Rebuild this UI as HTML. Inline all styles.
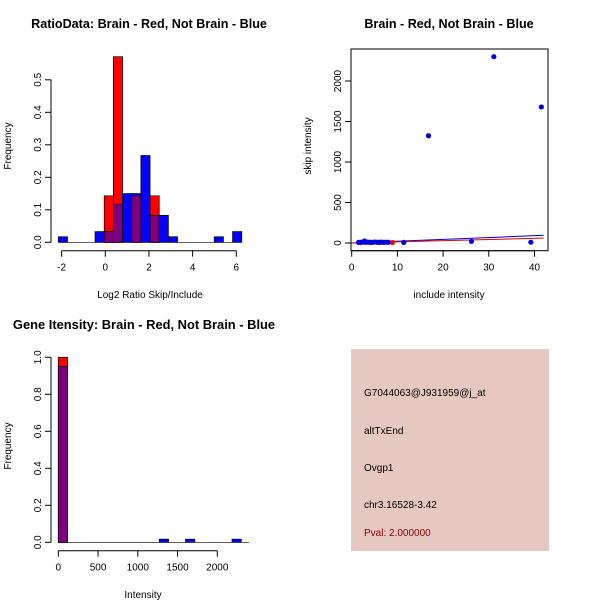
<!DOCTYPE html>
<html><head><meta charset="utf-8"><style>
body{margin:0;background:#fff}
svg text{font-family:"Liberation Sans",sans-serif}
</style></head><body>
<svg id="s" width="600" height="600" xmlns="http://www.w3.org/2000/svg">
<rect width="600" height="600" fill="#fff"/>
<text x="149" y="28" font-size="12.6" font-weight="bold" text-anchor="middle">RatioData: Brain - Red, Not Brain - Blue</text>
<text x="449" y="28" font-size="12.6" font-weight="bold" text-anchor="middle">Brain - Red, Not Brain - Blue</text>
<text x="144" y="329" font-size="12.9" font-weight="bold" text-anchor="middle">Gene Itensity: Brain - Red, Not Brain - Blue</text>
<text x="150" y="298" font-size="10" text-anchor="middle">Log2 Ratio Skip/Include</text>
<text transform="translate(11,146) rotate(-90)" font-size="10" text-anchor="middle">Frequency</text>
<text x="449" y="298" font-size="10" text-anchor="middle">include intensity</text>
<text transform="translate(311,146) rotate(-90)" font-size="10" text-anchor="middle">skip intensity</text>
<text x="143" y="598" font-size="10" text-anchor="middle">Intensity</text>
<text transform="translate(11,446) rotate(-90)" font-size="10" text-anchor="middle">Frequency</text>
<rect x="351" y="349" width="198" height="202" fill="#E5C8C1"/>
<text x="364" y="396" font-size="10">G7044063@J931959@j_at</text>
<text x="364" y="434" font-size="10">altTxEnd</text>
<text x="364" y="471" font-size="10">Ovgp1</text>
<text x="364" y="508" font-size="10">chr3.16528-3.42</text>
<text x="364" y="536" font-size="10" fill="#8B0000">Pval: 2.000000</text>
<g id="g"></g>
</svg>
<script>
// Panel 1: histogram of log2 ratio
const ratioBinStart = -2.15, ratioBinWidth = 0.42;
const ratioRed = [0,0,0,0,0,0.143,0.571,0,0.143,0,0.143,0,0,0,0,0,0,0,0,0];
const ratioBlue = [0.017,0,0,0,0.033,0.033,0.117,0.15,0.15,0.267,0.083,0.083,0.017,0,0,0,0,0.017,0,0.033];
const ratioXTicks = [-2,0,2,4,6];
const ratioYTicks = [0,0.1,0.2,0.3,0.4,0.5];
// Panel 2: scatter
const incBlue = [1.5,2,2.5,3,3.5,4,4.5,5,5.5,6,6.5,7,7.5,8,2.8,11.4,16.8,26.2,31.1,39.2,41.5];
const skipBlue = [8,10,12,9,11,10,8,12,9,10,11,8,10,9,25,8,1324,20,2300,10,1680];
const incRed = [2,4,6,8.9];
const skipRed = [5,6,5,6];
const fitBlueEnd = 95, fitRedEnd = 60, fitXEnd = 42;
const scatXTicks = [0,10,20,30,40];
const scatYTicks = [0,500,1000,1500,2000];
// Panel 3: intensity histogram
const intBinStart = [0,1270,1600,2185];
const intBinWidth = 117;
const intRed = [1.0,0,0,0];
const intBlue = [0.95,0.017,0.017,0.017];
const intXTicks = [0,500,1000,1500,2000];
const intYTicks = [0,0.2,0.4,0.6,0.8,1.0];

const NS="http://www.w3.org/2000/svg", G=document.getElementById('g');
function mk(t,a,txt){const e=document.createElementNS(NS,t);for(const k in a)e.setAttribute(k,a[k]);if(txt!=null)e.textContent=txt;G.appendChild(e);return e;}

const x1=v=>105.3+v*21.83, y1=v=>242.3-v*325;
const x2=v=>351.7+v*4.57, y2=v=>243-v*0.081;
const x3=v=>58.3+v*0.0795, y3=v=>542.3-v*185;

function hist(bx,by,starts,w,red,blue,pfx){
  for(let i=0;i<red.length;i++){
    const s=starts(i), xa=bx(s), xb=bx(s+w);
    if(red[i]>0){let e=mk('rect',{x:xa,y:by(red[i]),width:xb-xa,height:by(0)-by(red[i]),fill:'#FF0000',stroke:'#000','stroke-width':0.7});
      }
    if(blue[i]>0){let e=mk('rect',{x:xa,y:by(blue[i]),width:xb-xa,height:by(0)-by(blue[i]),fill:'#0000FF',stroke:'#000','stroke-width':0.7});
      }
    const m=Math.min(red[i],blue[i]);
    if(m>0){let e=mk('rect',{x:xa,y:by(m),width:xb-xa,height:by(0)-by(m),fill:'#7F007F',stroke:'#000','stroke-width':0.7});
      }
  }
}
function xaxis(f,ticks,y,pfx){
  let l=mk('line',{x1:f(ticks[0]),x2:f(ticks[ticks.length-1]),y1:y,y2:y,stroke:'#000'});
  
  ticks.forEach(t=>{mk('line',{x1:f(t),x2:f(t),y1:y,y2:y+6,stroke:'#000'});
    let e=mk('text',{x:f(t),y:y+20,'font-size':10,'text-anchor':'middle'},String(t));
    });
}
function yaxis(f,ticks,x,pfx){
  let l=mk('line',{x1:x,x2:x,y1:f(ticks[0]),y2:f(ticks[ticks.length-1]),stroke:'#000'});
  
  ticks.forEach(t=>{mk('line',{x1:x-6,x2:x,y1:f(t),y2:f(t),stroke:'#000'});
    let e=mk('text',{transform:`translate(${x-10},${f(t)}) rotate(-90)`,'font-size':10,'text-anchor':'middle'},
      pfx==='scatter'?String(t):t.toFixed(1));
    });
}
hist(x1,y1,i=>ratioBinStart+i*ratioBinWidth,ratioBinWidth,ratioRed,ratioBlue,'ratio');
mk('line',{x1:x1(ratioBinStart),x2:x1(ratioBinStart+20*ratioBinWidth),y1:y1(0),y2:y1(0),stroke:'#000','stroke-width':0.7});
xaxis(x1,ratioXTicks,250.7,'ratio'); yaxis(y1,ratioYTicks,51,'ratio');

hist(x3,y3,i=>intBinStart[i],intBinWidth,intRed,intBlue,'intensity');
mk('line',{x1:x3(0),x2:x3(2400),y1:y3(0),y2:y3(0),stroke:'#000','stroke-width':0.7});
xaxis(x3,intXTicks,550.7,'intensity'); yaxis(y3,intYTicks,51,'intensity');

let b=mk('rect',{x:351,y:49,width:197,height:201.7,fill:'none',stroke:'#000'});

xaxis(x2,scatXTicks,250.7,'scatter'); yaxis(y2,scatYTicks,351,'scatter');
let lb=mk('line',{x1:x2(0),y1:y2(0),x2:x2(fitXEnd),y2:y2(fitBlueEnd),stroke:'#0000CC','stroke-width':1});

let lr=mk('line',{x1:x2(0),y1:y2(0),x2:x2(fitXEnd),y2:y2(fitRedEnd),stroke:'#DD0000','stroke-width':1});

incRed.forEach((v,i)=>{let c=mk('circle',{cx:x2(v),cy:y2(skipRed[i]),r:2.6,fill:'#FF0000'});
  });
incBlue.forEach((v,i)=>{let c=mk('circle',{cx:x2(v),cy:y2(skipBlue[i]),r:2.6,fill:'#0000DD'});
  });
</script>
</body></html>
